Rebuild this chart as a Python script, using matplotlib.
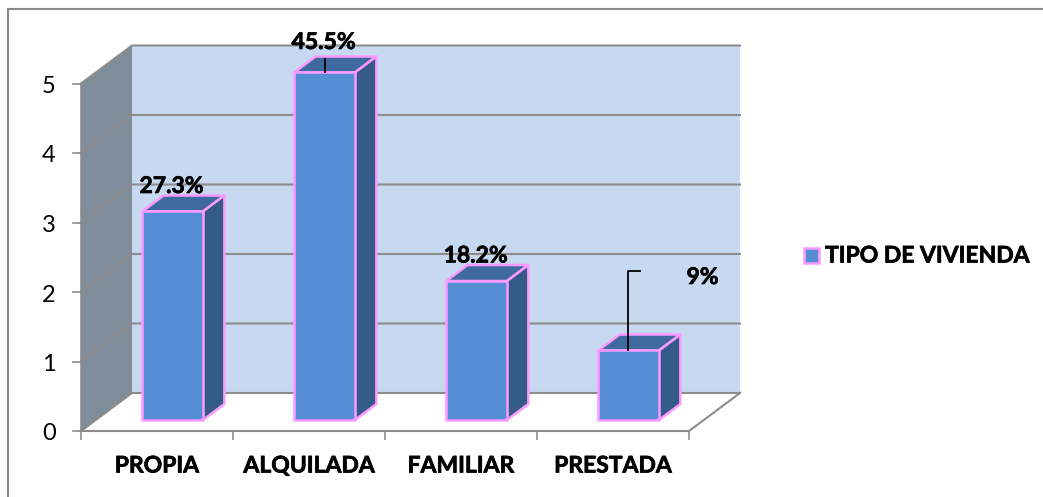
import numpy as np
import matplotlib
matplotlib.use("Agg")
import matplotlib.pyplot as plt
import matplotlib.patheffects as pe
from matplotlib.patches import Polygon, Rectangle

plt.rcParams["font.family"] = ["Lato", "DejaVu Sans"]

categories = ["PROPIA", "ALQUILADA", "FAMILIAR", "PRESTADA"]
values = [3, 5, 2, 1]
pct_labels = ["27.3%", "45.5%", "18.2%", "9%"]
y_ticks = [0, 1, 2, 3, 4, 5]
series_name = "TIPO DE VIVIENDA"

W, H = 1043, 497
fig = plt.figure(figsize=(W / 100, H / 100), dpi=100)
ax = fig.add_axes([0, 0, 1, 1])
ax.set_xlim(0, W)
ax.set_ylim(H, 0)
ax.axis("off")

# oblique projection: category, value, depth (0 front, 1 back) -> pixels
X0, Y0, CAT_W, UNIT, DX, DY = 81, 431, 152, 69.5, 51, 38
def pr(c, v, z=0):
    return (X0 + c * CAT_W + z * DX, Y0 - v * UNIT - z * DY)

GRID = "#8c8c8c"
WALL = "#c6d9f0"
SIDE = "#7f8c99"
FRONT = "#558ed5"
TOP = "#3f6a9f"
RIGHT = "#345a88"
PINK = "#ff99ff"
n = len(categories)
vmax = max(y_ticks)
# Lato bold is lighter than the reference lettering, thicken it a bit
heavy = [pe.withStroke(linewidth=0.5, foreground="black")]

# chart frame: only the top and left edges show in the picture
ax.plot([8, 8, W], [H, 8.5, 8.5], color="#8a8a8a", lw=1.5, solid_joinstyle="miter")

# walls
ax.add_patch(Polygon([pr(0, 0, 1), pr(n, 0, 1), pr(n, vmax, 1), pr(0, vmax, 1)], fc=WALL, ec="none"))
ax.add_patch(Polygon([pr(0, 0), pr(0, 0, 1), pr(0, vmax, 1), pr(0, vmax)], fc=SIDE, ec="none"))

# gridlines along side wall and back wall
for v in y_ticks:
    xs, ys = zip(pr(0, v), pr(0, v, 1), pr(n, v, 1))
    ax.plot(xs, ys, color=GRID, lw=1.5, solid_joinstyle="miter", zorder=2)

# floor front/right edge and axis
xs, ys = zip(pr(0, 0), pr(n, 0), pr(n, 0, 1))
ax.plot(xs, ys, color=GRID, lw=1.5, zorder=2)
ax.plot(*zip(pr(0, 0), pr(0, vmax)), color=GRID, lw=1.2, zorder=2)

# ticks and tick labels
for v in y_ticks:
    x, y = pr(0, v)
    ax.plot([x - 8, x], [y, y], color=GRID, lw=1.2)
    ax.text(x - 32, y + 3, str(v), ha="center", va="center", fontsize=17, color="black")
for c in range(n + 1):
    x, y = pr(c, 0)
    ax.plot([x, x], [y, y + 8], color=GRID, lw=1.2)
for c, name in enumerate(categories):
    x, y = pr(c + 0.5, 0)
    ax.text(x, y + 35, name, ha="center", va="center", fontsize=16.5, fontweight="bold",
            color="black", path_effects=heavy)

# bars
z1, z2 = 0.29, 0.71
bw = 0.4
shift = 0.505
for c, v in enumerate(values):
    l, r = c + shift - bw / 2, c + shift + bw / 2
    top = [pr(l, v, z1), pr(r, v, z1), pr(r, v, z2), pr(l, v, z2)]
    right = [pr(r, 0, z1), pr(r, 0, z2), pr(r, v, z2), pr(r, v, z1)]
    front = [pr(l, 0, z1), pr(r, 0, z1), pr(r, v, z1), pr(l, v, z1)]
    ax.add_patch(Polygon(top, fc=TOP, ec=PINK, lw=1.8, zorder=3, joinstyle="round"))
    ax.add_patch(Polygon(right, fc=RIGHT, ec=PINK, lw=1.8, zorder=3, joinstyle="round"))
    ax.add_patch(Polygon(front, fc=FRONT, ec=PINK, lw=1.8, zorder=4, joinstyle="round"))

# value labels, two of them with leader lines
for c, (v, lab) in enumerate(zip(values, pct_labels)):
    x, y = pr(c + shift, v, z1)
    if lab == "9%":
        ax.plot([x - 1, x - 1, x + 11], [y, y - 79, y - 79], color="black", lw=1.3, zorder=5)
        ax.text(x + 74, y - 73, lab, ha="center", va="center", fontsize=16.5, fontweight="bold",
                zorder=5, path_effects=heavy)
    else:
        ax.text(x - 1, y - 25 - (c == 1) * 5, lab, ha="center", va="center",
                fontsize=16.5, fontweight="bold", zorder=5, path_effects=heavy)
        if c == 1:
            ax.plot([x, x], [y, y - 13], color="black", lw=1.3, zorder=5)

# legend
ax.add_patch(Rectangle((804, 248), 15, 15, fc=FRONT, ec=PINK, lw=1.8))
ax.text(825, 256, series_name, ha="left", va="center", fontsize=16.5, fontweight="bold",
        path_effects=heavy)

fig.savefig("out.png", dpi=100)
